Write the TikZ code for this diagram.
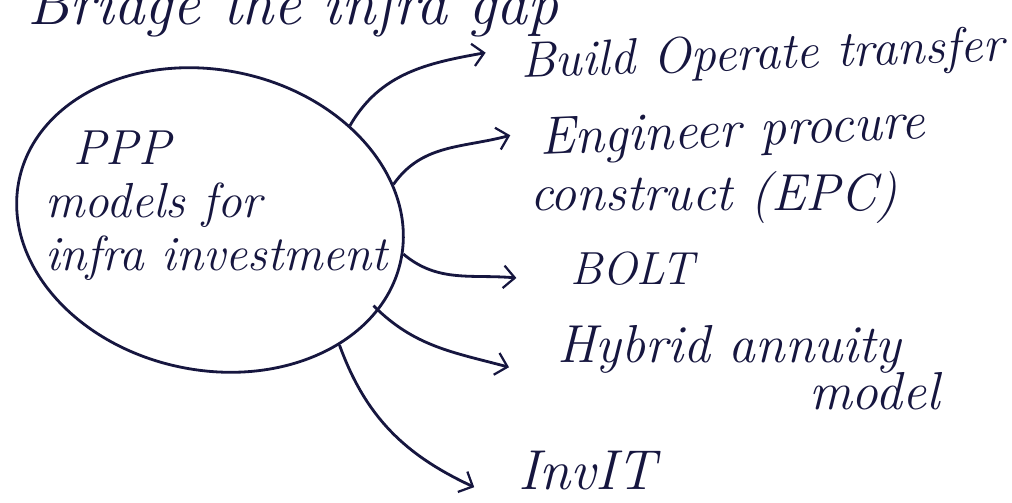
\documentclass[tikz,border=0pt]{standalone}
\usepackage{xcolor}
\usepackage{tikz}
\usetikzlibrary{shapes.geometric, arrows.meta, positioning, calc}

\definecolor{ink}{HTML}{16163F}

\begin{document}
\begin{tikzpicture}[
    x=0.025cm, y=-0.025cm,
    hub/.style={ellipse, draw=ink, line width=2pt, minimum width=9.75cm, minimum height=7.5cm, inner sep=0pt},
    lbl/.style={text=ink, font=\fontsize{38}{30}\selectfont\itshape, inner sep=2pt, anchor=base west},
    arrow/.style={-{Straight Barb[length=8pt, width=16pt, line width=1.6pt]}, draw=ink, line width=2pt},
]
\useasboundingbox (0,0) rectangle (1012,503);

% Heading (cut off at the top edge)
\node[lbl, font=\fontsize{44}{30}\selectfont\itshape] (title) at (24,25) {Bridge the infra gap};

% Central idea
\node[hub, rotate=-12] (ppp) at (210,220) {};
\node[lbl, font=\fontsize{35}{37.6}\selectfont\itshape, align=left, anchor=north west] (ppptext) at (42,128) {\hspace*{0.7cm}PPP\\models for\\infra investment};

% Models
\node[lbl, font=\fontsize{36}{30}\selectfont\itshape, rotate=2] (bot) at (518,78) {Build Operate transfer};
\node[lbl, rotate=2.5] (epc) at (537,155) {Engineer procure};
\node[lbl, font=\fontsize{37}{30}\selectfont\itshape] (epcb) at (527,211) {construct (EPC)};
\node[lbl, font=\fontsize{33}{30}\selectfont\itshape] (bolt) at (567,285) {BOLT};
\node[lbl] (ham) at (554,363) {Hybrid annuity};
\node[lbl] (hamb) at (806,410) {model};
\node[lbl, font=\fontsize{40}{30}\selectfont\itshape] (invit) at (515,490) {InvIT};

% Arrows
\draw[arrow] (ppp.46) to[out=60, in=190] ([shift={(-23pt,18pt)}]bot.base west);
\draw[arrow] (ppp.23) to[out=55, in=195] ([shift={(-19pt,14pt)}]epc.base west);
\draw[arrow] (ppp.2) to[out=-40, in=175] ([shift={(-36pt,5pt)}]bolt.base west);
\draw[arrow] ([shift={(-4pt,3pt)}]ppp.-16) to[out=-45, in=165] ([shift={(-32pt,-3pt)}]ham.base west);
\draw[arrow] (ppp.-32) to[out=-70, in=155] ([shift={(-29pt,2pt)}]invit.base west);

\end{tikzpicture}
\end{document}
